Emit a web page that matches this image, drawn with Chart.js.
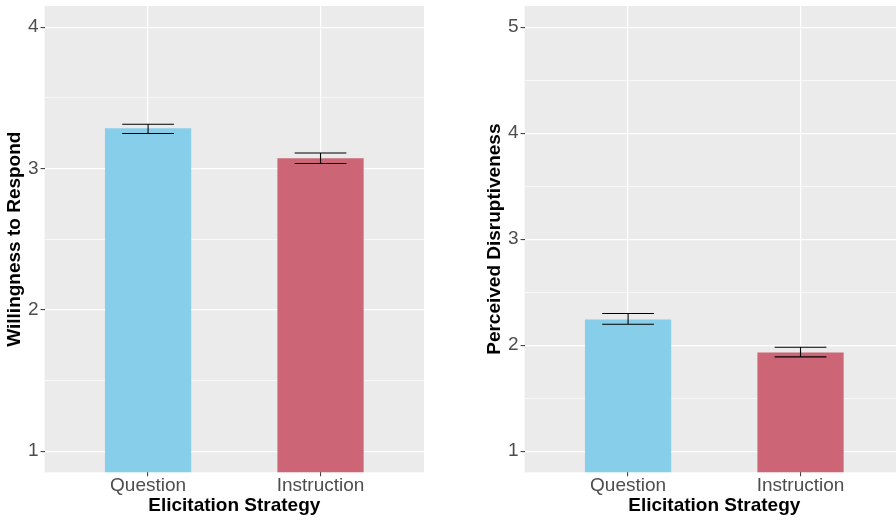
<!DOCTYPE html>
<html>
<head>
<meta charset="utf-8">
<script src="https://cdn.jsdelivr.net/npm/chart.js@4/dist/chart.umd.min.js"></script>
<style>
  html, body { margin: 0; padding: 0; background: #ffffff; width: 896px; height: 520px; overflow: hidden; position: relative; }
  canvas { position: absolute; top: 0; }
  #c1 { left: 0px; }
  #c2 { left: 480px; }
</style>
</head>
<body>
<canvas id="c1" width="448" height="520"></canvas>
<canvas id="c2" width="430" height="520"></canvas>
<script>
// ---- data ----
const categories = ['Question', 'Instruction'];
const willingMean = [3.285, 3.073];
const willingLow  = [3.248, 3.035];
const willingHigh = [3.313, 3.110];
const disruptMean = [2.242, 1.930];
const disruptLow  = [2.197, 1.889];
const disruptHigh = [2.298, 1.980];
const willingTicks = [1, 2, 3, 4];
const disruptTicks = [1, 2, 3, 4, 5];
const barColors = ['#87CEEB', '#CC6677'];
const xTitle = 'Elicitation Strategy';

const FONT = '"Liberation Sans", Arial, Helvetica, sans-serif';

const panelBg = {
  id: 'panelBg',
  beforeDraw(chart) {
    const a = chart.chartArea, ctx = chart.ctx;
    ctx.save();
    ctx.fillStyle = '#EBEBEB';
    ctx.fillRect(a.left, a.top, a.right - a.left, a.bottom - a.top);
    ctx.restore();
  }
};

const errorBars = {
  id: 'errorBars',
  afterDatasetsDraw(chart, args, opts) {
    const ctx = chart.ctx, xs = chart.scales.x, ys = chart.scales.y;
    ctx.save();
    ctx.strokeStyle = '#000000';
    ctx.lineWidth = 1.1;
    opts.low.forEach((lo, i) => {
      const hi = opts.high[i];
      const xc = i + 1;
      const xl = xs.getPixelForValue(xc - 0.15), xr = xs.getPixelForValue(xc + 0.15);
      const xm = xs.getPixelForValue(xc);
      const yl = ys.getPixelForValue(lo), yh = ys.getPixelForValue(hi);
      ctx.beginPath();
      ctx.moveTo(xl, yh); ctx.lineTo(xr, yh);
      ctx.moveTo(xl, yl); ctx.lineTo(xr, yl);
      ctx.moveTo(xm, yh); ctx.lineTo(xm, yl);
      ctx.stroke();
    });
    ctx.restore();
  }
};

function makeChart(id, mean, low, high, ticks, yTitle, yMin, yMax, padRight) {
  const minorTicks = [];
  for (let k = 0; k < ticks.length - 1; k++) minorTicks.push((ticks[k] + ticks[k + 1]) / 2);
  const allTicks = ticks.concat(minorTicks).sort((a, b) => a - b);
  const isMajor = v => ticks.includes(v);
  return new Chart(document.getElementById(id), {
    type: 'bar',
    data: {
      datasets: [{
        data: mean.map((v, i) => ({ x: i + 1, y: v })),
        backgroundColor: barColors,
        borderWidth: 0,
        barPercentage: 0.5,
        categoryPercentage: 1.0
      }]
    },
    options: {
      responsive: false,
      devicePixelRatio: 1,
      animation: false,
      layout: { padding: { left: 0, top: 6, right: padRight, bottom: 0 } },
      plugins: {
        legend: { display: false },
        tooltip: { enabled: false },
        errorBars: { low: low, high: high }
      },
      scales: {
        x: {
          type: 'linear',
          min: 0.4, max: 2.6,
          offset: false,
          afterBuildTicks: s => { s.ticks = categories.map((c, i) => ({ value: i + 1 })); },
          afterFit: s => { s.height = 47.7; s.paddingLeft = 0; s.paddingRight = 0; },
          ticks: {
            callback: v => categories[v - 1] || '',
            color: '#4D4D4D',
            font: { family: FONT, size: 19, lineHeight: 1.0 },
            padding: 0,
            maxRotation: 0,
            autoSkip: false
          },
          grid: {
            offset: false,
            color: '#FFFFFF',
            lineWidth: 1.2,
            tickColor: '#333333',
            tickLength: 4,
            tickWidth: 1
          },
          border: { display: false },
          title: {
            display: true,
            text: xTitle,
            color: '#000000',
            font: { family: FONT, size: 19, weight: 'bold', lineHeight: 1.2 },
            padding: { top: 0, bottom: 2.6 }
          }
        },
        y: {
          type: 'linear',
          min: yMin, max: yMax,
          afterBuildTicks: s => { s.ticks = allTicks.map(v => ({ value: v })); },
          afterFit: s => { s.width = 44.6; s.paddingTop = 0; s.paddingBottom = 0; },
          ticks: {
            callback: v => isMajor(v) ? String(v) : '',
            color: '#4D4D4D',
            font: { family: FONT, size: 19 },
            padding: 2,
            autoSkip: false
          },
          grid: {
            color: '#FFFFFF',
            lineWidth: c => (c.tick && isMajor(c.tick.value)) ? 1.2 : 0.6,
            tickColor: c => (c.tick && isMajor(c.tick.value)) ? '#333333' : 'rgba(0,0,0,0)',
            tickLength: 4,
            tickWidth: 1
          },
          border: { display: false },
          title: {
            display: true,
            text: yTitle,
            color: '#000000',
            font: { family: FONT, size: 19, weight: 'bold', lineHeight: 1.2 },
            padding: { top: 3.6, bottom: 0 }
          }
        }
      }
    },
    plugins: [panelBg, errorBars]
  });
}

makeChart('c1', willingMean, willingLow, willingHigh, willingTicks, 'Willingness to Respond', 0.85, 4.15, 24);
makeChart('c2', disruptMean, disruptLow, disruptHigh, disruptTicks, 'Perceived Disruptiveness', 0.8, 5.2, 6);
</script>
</body>
</html>
